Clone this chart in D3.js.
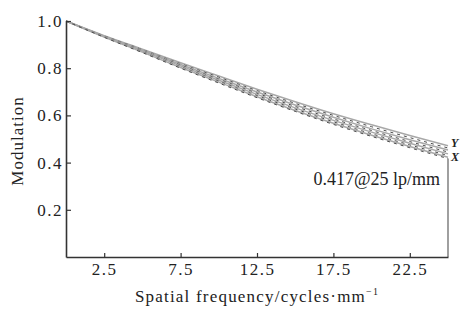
<!DOCTYPE html>
<html>
<head>
<meta charset="utf-8">
<script src="https://cdn.jsdelivr.net/npm/d3@7"></script>
<style>
  body { margin: 0; background: #fff; }
  svg text { font-family: 'Liberation Serif', 'Times New Roman', serif; }
  .axis .domain { stroke: #333; stroke-width: 1.6; }
  .axis line { stroke: #333; stroke-width: 1.2; }
  .axis text { font-size: 17px; fill: #222; letter-spacing: 1.5px; }
</style>
</head>
<body>
<svg width="461" height="309"></svg>
<script>
// spatial frequency (cycles/mm)
var freq = [0, 2.5, 5, 7.5, 10, 12.5, 15, 17.5, 20, 22.5, 25];

// MTF curves, top (Y) to bottom (X)
var mtf1 = [1.0, 0.938, 0.881, 0.823, 0.767, 0.711, 0.658, 0.607, 0.560, 0.515, 0.471];
var mtf2 = [1.0, 0.937, 0.879, 0.819, 0.762, 0.705, 0.651, 0.600, 0.552, 0.506, 0.462];
var mtf3 = [1.0, 0.936, 0.877, 0.816, 0.757, 0.699, 0.644, 0.592, 0.543, 0.497, 0.453];
var mtf4 = [1.0, 0.935, 0.875, 0.813, 0.753, 0.694, 0.638, 0.585, 0.536, 0.489, 0.445];
var mtf5 = [1.0, 0.934, 0.873, 0.810, 0.749, 0.689, 0.632, 0.579, 0.529, 0.482, 0.437];
var mtf6 = [1.0, 0.933, 0.870, 0.806, 0.745, 0.684, 0.627, 0.573, 0.522, 0.475, 0.430];
var mtf7 = [1.0, 0.932, 0.868, 0.803, 0.741, 0.679, 0.621, 0.567, 0.516, 0.468, 0.423];
var mtf8 = [1.0, 0.931, 0.866, 0.800, 0.737, 0.675, 0.617, 0.562, 0.511, 0.463, 0.417];

var xTicks = [2.5, 7.5, 12.5, 17.5, 22.5];
var yTicks = [0.2, 0.4, 0.6, 0.8, 1.0];

var allSeries = [mtf1, mtf2, mtf3, mtf4, mtf5, mtf6, mtf7, mtf8];

var svg = d3.select("svg"),
    margin = {top: 21, right: 13, bottom: 52, left: 66},
    width = +svg.attr("width") - margin.left - margin.right,
    height = +svg.attr("height") - margin.top - margin.bottom,
    g = svg.append("g").attr("transform", "translate(" + margin.left + "," + margin.top + ")");

var x = d3.scaleLinear().domain([0, 25]).range([0, width]);
var y = d3.scaleLinear().domain([0, 1]).range([height, 0]);

var line = d3.line()
  .x(function(d, i) { return x(freq[i]); })
  .y(function(d) { return y(d); })
  .curve(d3.curveMonotoneX);

// right closing line at 25 lp/mm
g.append("line")
  .attr("x1", x(25)).attr("x2", x(25))
  .attr("y1", y(mtf8[mtf8.length - 1])).attr("y2", y(0))
  .attr("stroke", "#777")
  .attr("stroke-width", 1.4);

g.append("g").selectAll("path")
  .data(allSeries)
  .enter().append("path")
  .attr("d", line)
  .attr("fill", "none")
  .attr("stroke", function(d, i) { return i % 2 ? "#4a4a4a" : "#a8a8a8"; })
  .attr("stroke-width", function(d, i) { return i % 2 ? 1 : 1.5; })
  .attr("stroke-dasharray", function(d, i) { return i % 2 ? "3,4" : null; });

g.append("g")
  .attr("class", "axis")
  .attr("transform", "translate(0," + height + ")")
  .call(d3.axisBottom(x).tickValues(xTicks).tickSizeInner(-4).tickSizeOuter(0).tickPadding(6)
    .tickFormat(d3.format(".1f")));

g.append("g")
  .attr("class", "axis")
  .call(d3.axisLeft(y).tickValues(yTicks).tickSizeInner(-5).tickSizeOuter(0).tickPadding(3)
    .tickFormat(d3.format(".1f")));

// labels
svg.append("text")
  .attr("transform", "translate(23," + (margin.top + height / 2 + 2) + ") rotate(-90)")
  .attr("text-anchor", "middle")
  .attr("font-size", 17)
  .attr("letter-spacing", 1)
  .attr("fill", "#222")
  .text("Modulation");

var xl = svg.append("text")
  .attr("x", margin.left + width / 2)
  .attr("y", 302)
  .attr("text-anchor", "middle")
  .attr("font-size", 17)
  .attr("letter-spacing", 1.2)
  .attr("fill", "#222")
  .text("Spatial frequency/cycles\u00b7mm");
xl.append("tspan").attr("dy", -7).attr("font-size", 10).text("\u22121");

g.append("text")
  .attr("x", x(25) - 8)
  .attr("y", y(0.417) + 26)
  .attr("text-anchor", "end")
  .attr("font-size", 18)
  .attr("fill", "#222")
  .text("0.417@25 lp/mm");

svg.append("text")
  .attr("x", margin.left + x(25) + 3)
  .attr("y", 147)
  .attr("font-size", 12)
  .attr("font-style", "italic")
  .attr("font-weight", "bold")
  .attr("fill", "#222")
  .text("Y");

svg.append("text")
  .attr("x", margin.left + x(25) + 3)
  .attr("y", 161)
  .attr("font-size", 12)
  .attr("font-style", "italic")
  .attr("font-weight", "bold")
  .attr("fill", "#222")
  .text("X");
</script>
</body>
</html>
